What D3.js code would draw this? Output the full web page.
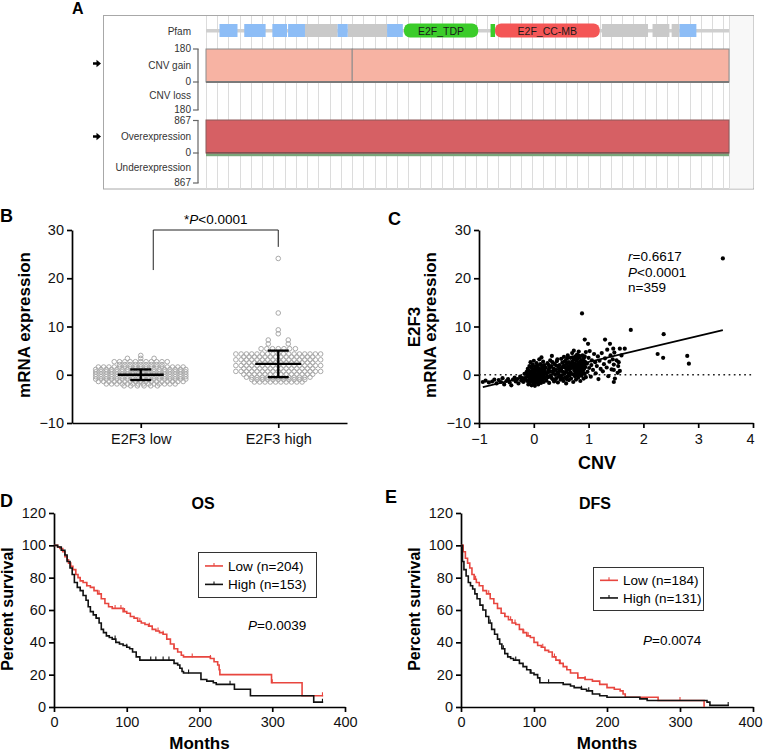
<!DOCTYPE html>
<html><head><meta charset="utf-8">
<script src="https://cdn.jsdelivr.net/npm/d3@7"></script>
<style>
body{margin:0;background:#fff}
svg{display:block}
text{font-family:"Liberation Sans",Arial,Helvetica,sans-serif}
</style>
</head><body>
<svg id="c" width="763" height="751"></svg>
<script>
// ---------------- DATA ----------------
// Panel A (protein track, residues)
const protLen = 465;
const blueDomains = [[12,28],[34,53],[59,72],[73,88],[117,126],[161,175],[421,436]];
const grayDomains = [[88,117],[126,161],[352,393],[397,412],[414,421]];
const pfamNames = ["E2F_TDP","E2F_CC-MB"];
const pfamStarts = [176,257];
const pfamEnds = [242,350];
const smallGreenDomain = [253,257];
const cnvMax = 180, exprMax = 867;
const cnvGainSegments = [[0,130],[130,465]];
const cnvGainValue = 180;
const overSegments = [[0,465]];
const overValue = 867;
const rowLabelsA = ["CNV gain","CNV loss","Overexpression","Underexpression"];

// Panel B (beeswarm, rows of values)
const groupsB = ["E2F3 low","E2F3 high"];
const lowRowValues  = [4.0,3.4,2.7,2.1,1.6,1.1,0.6,0.1,-0.4,-0.9,-1.4,-1.9,-2.3];
const lowRowCounts  = [1,3,11,9,17,18,18,18,18,18,17,14,6];
const highRowValues = [24.1,12.8,9.3,8.5,7.2,6.4,5.4,4.3,3.7,3.1,2.5,1.9,1.3,0.7,0.1,-0.5,-1.0,-1.5];
const highRowCounts = [1,1,1,1,2,2,7,17,14,17,14,17,14,17,14,13,11,10];
const groupMeans = [0.0,2.25];
const groupSDs = [1.1,2.75];
const bracketLegs = [21.7,26.5];
const yTicksB = [-10,0,10,20,30];

// Panel C (CNV vs expression)
const scatterPoints = [
[-0.93,-1.5],[-0.88,-1.2],[-0.82,-1.6],[-0.76,-1.4],[-0.72,-1.0],[-0.68,-1.8],[-0.64,-1.1],[-0.6,-1.5],[-0.57,-0.7],[-0.54,-2.0],[-0.5,-1.3],[-0.47,-0.9],[-0.44,-1.6],[-0.41,-2.2],[-0.38,-1.0],[-0.35,-0.6],[-0.33,-1.4],[-0.3,-0.9],[-0.28,-1.8],[-0.25,-0.4],[-0.23,-1.2],[-0.21,-0.7],[-0.19,-1.5],[-0.17,0.2],[-0.16,-1.0],
[-0.14,-0.5],[-0.13,0.6],[-0.12,-1.3],[-0.11,1.2],[-0.1,-0.2],[-0.1,-2.0],[-0.09,0.9],[-0.08,-0.8],[-0.08,1.8],[-0.07,-1.6],[-0.07,0.3],[-0.06,-0.4],[-0.06,2.6],[-0.05,-1.1],[-0.05,0.7],[-0.04,-2.2],[-0.04,1.5],[-0.03,-0.6],[-0.03,0.1],[-0.02,-1.4],[-0.02,2.1],[-0.01,-0.9],[-0.01,0.5],[0,-1.8],[0,-0.2],[0,1.1],[0,2.9],[0.01,-0.5],[0.01,0.8],[0.02,-1.2],[0.02,-2.3],[0.02,1.7],[0.03,0.2],[0.03,-0.8],[0.04,1.3],[0.04,-1.6],[0.05,0.0],[0.05,2.4],[0.06,-0.4],[0.06,0.9],[0.07,-1.0],[0.07,1.9],[0.08,0.4],[0.08,-2.0],[0.09,-0.6],[0.09,1.4],[0.1,3.2],[0.1,-1.3],[0.11,0.6],[0.11,-0.1],[0.12,2.2],[0.12,-0.9],[0.13,1.0],[0.13,-1.7],[0.14,0.3],[0.14,3.6],[0.15,-0.5],[0.15,1.6],[0.16,-1.1],[0.16,0.8],[0.17,2.7],[0.17,-0.3],[0.18,1.2],[0.18,-1.5],[0.19,0.1],[0.19,2.0],[0.2,-0.7],[0.2,0.9],[-0.02,0.9],[0.04,-0.2],[0.08,1.0],[-0.09,-1.2],[0.13,0.0],[0.06,-1.5],[-0.12,0.2],[0.1,0.5],[0.01,-1.0],[0.16,1.9],[-0.05,-0.1],[0.09,-0.3],
[0.22,1.5],[0.23,-1.2],[0.24,0.3],[0.25,2.4],[0.26,-0.5],[0.27,1.0],[0.28,-1.7],[0.29,0.6],[0.3,3.0],[0.31,-0.2],[0.32,1.8],[0.33,3.9],[0.34,-0.9],[0.35,0.4],[0.36,1.3],[0.37,-1.4],[0.38,2.2],[0.39,0.0],[0.4,1.0],[0.41,-0.7],[0.42,2.8],[0.43,0.5],[0.44,-1.6],[0.45,1.6],[0.46,-0.3],[0.47,2.0],[0.48,0.8],[0.49,-1.0],[0.5,3.3],[0.5,1.2],[0.51,-0.1],[0.52,2.5],[0.53,0.6],[0.54,-1.3],[0.55,1.9],[0.55,3.7],[0.56,0.2],[0.57,-0.6],[0.58,1.4],[0.58,2.9],[0.59,-1.8],[0.6,0.9],[0.6,2.3],[0.61,-0.4],[0.62,1.7],[0.62,4.0],[0.63,0.3],[0.64,-1.1],[0.64,2.6],[0.65,1.1],[0.27,2.0],[0.32,-0.6],[0.36,0.9],[0.41,1.9],[0.45,0.2],[0.48,-0.5],[0.52,1.6],[0.56,2.7],[0.6,-0.9],[0.63,1.5],[0.24,-0.3],[0.29,1.4],[0.34,2.6],[0.39,-1.0],[0.43,3.2],[0.47,1.1],[0.53,-0.8],[0.57,0.5],[0.61,3.4],[0.65,-0.2],
[0.66,2.0],[0.67,0.5],[0.67,3.5],[0.68,-0.8],[0.69,1.4],[0.7,2.7],[0.7,4.5],[0.71,0.1],[0.72,1.8],[0.72,-1.5],[0.73,3.1],[0.73,5.0],[0.74,0.9],[0.74,2.3],[0.75,-0.3],[0.75,1.6],[0.76,3.8],[0.76,0.4],[0.77,2.1],[0.77,-1.0],[0.78,1.2],[0.78,2.9],[0.79,4.2],[0.79,0.0],[0.8,1.9],[0.8,3.3],[0.81,-0.6],[0.81,2.5],[0.82,1.0],[0.82,4.8],[0.83,0.3],[0.83,2.2],[0.84,1.5],[0.84,3.6],[0.85,-1.3],[0.85,2.8],[0.86,0.7],[0.86,1.8],[0.87,3.0],[0.87,-0.2],[0.88,2.4],[0.88,1.1],[0.89,4.0],[0.89,0.5],[0.9,1.7],[0.9,2.9],[0.91,-0.8],[0.91,3.4],[0.92,1.3],[0.92,2.1],[0.93,0.2],[0.93,3.8],[0.94,1.6],[0.94,2.6],[0.95,-0.5],[0.95,4.7],[0.69,2.2],[0.71,3.6],[0.76,1.0],[0.8,0.6],[0.83,3.9],[0.86,2.3],[0.89,1.4],[0.92,2.8],[0.74,1.3],[0.78,3.6],[0.84,0.0],[0.9,0.9],[0.81,1.4],[0.87,1.9],
[0.97,2.3],[0.98,0.6],[1.0,3.5],[1.01,1.4],[1.02,4.9],[1.04,-0.4],[1.05,2.0],[1.06,3.0],[1.08,1.0],[1.1,4.3],[1.12,2.6],[1.13,0.3],[1.15,1.8],[1.17,3.8],[1.18,-0.9],[1.2,2.9],[1.22,1.2],[1.24,4.5],[1.26,0.7],[1.28,2.2],[1.3,3.4],[1.33,1.5],[1.34,5.2],[1.36,-0.3],[1.38,2.7],[1.4,4.0],[1.42,1.1],[1.44,3.2],[1.46,1.0],[1.46,2.1],[1.47,4.6],[1.48,-0.8],[1.51,3.0],[1.54,1.8],[1.55,2.6],[1.57,0.8],[1.6,4.0],[1.45,5.4],[1.57,5.4],[1.66,5.4],
[0.88,12.7],[3.45,24.1],[1.77,9.3],[2.37,8.4],[2.26,4.3],[2.36,3.5],[2.8,3.9],[2.83,2.3],[1.3,7.3],[1.39,6.4],[0.93,7.3],[0.99,6.4],[1.46,-1.5],[1.53,0.4]
];
const regSlope = 2.7, regIntercept = -0.05;
const statsC = ["r=0.6617","P<0.0001","n=359"];
const xTicksC = [-1,0,1,2,3,4];

// Panel D (OS) Kaplan-Meier
const osLowT  = [0,5,8,12,15,18,20,23,26,30,33,36,40,45,50,55,60,65,70,75,80,85,90,95,100,105,110,115,120,125,130,135,140,145,150,155,160,165,170,175,178,210,215,220,225,227,228,297,299,340,341,370];
const osLowS  = [100,99,98,96,93,91,89,87,85,82,80,78,77,75,74,72,70,67,64,62,61,61,61,59,58,56,55,53,52,51,50,48,47,46,45,42,39,36,34,32,31,31,30,28,26,23,20,20,15,15,7,7];
const osHighT = [0,5,10,15,18,22,25,28,32,36,40,44,47,50,54,58,62,65,68,72,76,80,85,90,95,100,104,108,113,118,125,165,170,173,176,178,200,202,210,219,223,246,248,268,270,355,357,370];
const osHighS = [100,99,97,94,90,86,82,77,74,72,69,66,62,59,57,55,52,48,46,44,43,42,40,39,38,37,36,34,31,29,29,27,26,24,22,21,21,17,16,15,14,14,11,11,7,7,3,3];
const osLowCensor  = [45,62,84,92,97,118,131,143,150,165,190,215,300,369];
const osHighCensor = [58,84,100,133,140,150,158,185,242,369];

// Panel E (DFS)
const dfsLowT  = [0,3,6,9,12,15,18,21,25,30,35,40,45,50,55,60,65,70,75,80,85,90,95,100,105,110,115,120,125,130,135,140,145,150,160,170,180,190,200,210,218,222,225,268,270,332,333];
const dfsLowS  = [100,96,92,89,86,82,79,77,75,72,70,67,64,61,58,56,54,52,51,48,46,44,43,40,38,37,35,34,31,29,27,25,23,21,18,17,16,14,12,11,10,8,6,6,4,4,0];
const dfsHighT = [0,2,4,7,10,13,16,19,22,26,30,34,38,42,46,50,53,56,60,64,68,72,76,80,85,90,95,100,105,108,135,140,150,155,165,172,180,190,200,245,255,337,341,367];
const dfsHighS = [100,90,85,81,77,75,73,70,67,63,60,56,52,48,45,42,39,36,33,31,30,29,29,27,25,23,21,20,18,15,15,14,13,12,11,10,8,7,6,5,4,3,1,1];
const dfsLowCensor  = [20,38,60,68,74,86,92,112,128,136,160,170,300];
const dfsHighCensor = [40,58,75,96,120,165,175,366];

const kmLegendD = ["Low (n=204)","High (n=153)"];
const kmLegendE = ["Low (n=184)","High (n=131)"];
const kmPD = "0.0039", kmPE = "0.0074";
const kmYTicks = [0,20,40,60,80,100,120];
const kmXTicks = [0,100,200,300,400];

// ---------------- DRAW ----------------
const svg = d3.select('#c');
const RED = '#e8463f';
const fmtInt = d3.format('d');

function styleAxis(g, fs){
  g.attr('font-size', fs);
  g.selectAll('path.domain').attr('stroke','#000').attr('stroke-width',1.7);
  g.selectAll('.tick line').attr('stroke','#000').attr('stroke-width',1.7);
  g.selectAll('.tick text').attr('fill','#111');
}
function letter(t,x,y,fs){
  svg.append('text').attr('x',x).attr('y',y).attr('font-size',fs).attr('font-weight','bold').text(t);
}

// ===== Panel A =====
letter('A',72,14,16);
const xA = d3.scaleLinear([0,protLen],[206,729]);
const yGain = d3.scaleLinear([0,cnvMax],[82,49]);
const yLoss = d3.scaleLinear([0,cnvMax],[82,110]);
const yOver = d3.scaleLinear([0,exprMax],[153,120]);
const yUnder = d3.scaleLinear([0,exprMax],[153,183]);
const gA = svg.append('g');
gA.append('rect').attr('x',103.5).attr('y',15.5).attr('width',650).attr('height',173.5)
  .attr('fill','#fff').attr('stroke','#a8a8a8');
gA.append('rect').attr('x',xA(protLen)).attr('y',16).attr('width',753.5-xA(protLen)).attr('height',172.5).attr('fill','#f8f8f8');
// grid lines
d3.range(0,protLen,10).concat([protLen]).forEach(r=>{
  gA.append('line').attr('x1',Math.round(xA(r))+0.5).attr('x2',Math.round(xA(r))+0.5)
    .attr('y1',16).attr('y2',188.5).attr('stroke','#dcdcdc').attr('stroke-width',1);
});
// pfam backbone
gA.append('rect').attr('x',xA(0)).attr('y',29).attr('width',xA(protLen)-xA(0)).attr('height',3.5).attr('fill','#cfcfcf');
grayDomains.forEach(d=>gA.append('rect').attr('x',xA(d[0])).attr('y',24).attr('width',xA(d[1])-xA(d[0])).attr('height',13).attr('fill','#c9c9c9'));
blueDomains.forEach(d=>gA.append('rect').attr('x',xA(d[0])).attr('y',24).attr('width',xA(d[1])-xA(d[0])).attr('height',13).attr('fill','#8dbdf6'));
gA.append('rect').attr('x',xA(smallGreenDomain[0])).attr('y',24).attr('width',xA(smallGreenDomain[1])-xA(smallGreenDomain[0])).attr('height',13).attr('fill','#3bcc2a');
const pfamColors = ['#3bcc2a','#f45656'];
pfamNames.forEach((n,i)=>{
  gA.append('rect').attr('x',xA(pfamStarts[i])).attr('y',23.5).attr('width',xA(pfamEnds[i])-xA(pfamStarts[i])).attr('height',14)
    .attr('rx',6).attr('fill',pfamColors[i]);
  gA.append('text').attr('x',(xA(pfamStarts[i])+xA(pfamEnds[i]))/2).attr('y',34.5).attr('text-anchor','middle')
    .attr('font-size',10.5).attr('fill','#1a1a1a').text(n);
});
// CNV gain
cnvGainSegments.forEach(s=>{
  gA.append('rect').attr('x',xA(s[0])).attr('y',yGain(cnvGainValue)).attr('width',xA(s[1])-xA(s[0])).attr('height',yGain(0)-yGain(cnvGainValue))
    .attr('fill','#f7b3a3').attr('stroke','#8c8c8c').attr('stroke-width',1);
});
gA.append('line').attr('x1',xA(0)).attr('x2',xA(protLen)).attr('y1',yGain(0)).attr('y2',yGain(0)).attr('stroke','#7a7a7a').attr('stroke-width',2);
// Overexpression
overSegments.forEach(s=>{
  gA.append('rect').attr('x',xA(s[0])).attr('y',yOver(overValue)).attr('width',xA(s[1])-xA(s[0])).attr('height',yOver(0)-yOver(overValue))
    .attr('fill','#d66064').attr('stroke','#8c5a5a').attr('stroke-width',1);
});
gA.append('line').attr('x1',xA(0)).attr('x2',xA(protLen)).attr('y1',yOver(0)).attr('y2',yOver(0)).attr('stroke','#7a4848').attr('stroke-width',1.5);
gA.append('rect').attr('x',xA(0)).attr('y',yOver(0)+0.8).attr('width',xA(protLen)-xA(0)).attr('height',2.4).attr('fill','#7aa67a');
// labels + brackets
const labA = (t,y)=>gA.append('text').attr('x',191).attr('y',y+3.4).attr('text-anchor','end').attr('font-size',10).attr('fill','#333').text(t);
labA('Pfam',32);
function bracket(top,mid,bot,topLab,botLab){
  gA.append('line').attr('x1',198).attr('x2',198).attr('y1',top).attr('y2',bot).attr('stroke','#666').attr('stroke-width',1.2);
  [top,mid,bot].forEach(y=>gA.append('line').attr('x1',193).attr('x2',198.6).attr('y1',y).attr('y2',y).attr('stroke','#666').attr('stroke-width',1.2));
  labA(topLab,top); labA('0',mid); labA(botLab,bot);
}
bracket(yGain(cnvMax),yGain(0),yLoss(cnvMax),String(cnvMax),String(cnvMax));
bracket(yOver(exprMax)+0.5,yOver(0),yUnder(exprMax),String(exprMax),String(exprMax));
labA(rowLabelsA[0],(yGain(cnvMax)+yGain(0))/2);
labA(rowLabelsA[1],(yLoss(cnvMax)+yLoss(0))/2);
labA(rowLabelsA[2],(yOver(exprMax)+yOver(0))/2);
labA(rowLabelsA[3],(yUnder(exprMax)+yUnder(0))/2);
[(yGain(cnvMax)+yGain(0))/2-2,(yOver(exprMax)+yOver(0))/2].forEach(y=>{
  gA.append('path').attr('d',`M93,${y-1.2}h3.5v-2.5l4.5,3.7l-4.5,3.7v-2.5h-3.5z`).attr('fill','#000');
});

// ===== Panel B =====
letter('B',0,222,18);
const xB = d3.scalePoint(groupsB,[72,347]).padding(0.5);
const yB = d3.scaleLinear([-10,30],[423,230]);
const gBy = svg.append('g').attr('transform','translate(72,0)').call(d3.axisLeft(yB).tickValues(yTicksB).tickFormat(fmtInt).tickSize(5).tickSizeOuter(0).tickPadding(3));
styleAxis(gBy,14.5);
const gBx = svg.append('g').attr('transform','translate(0,423)').call(d3.axisBottom(xB).tickSize(5).tickSizeOuter(0).tickPadding(6));
styleAxis(gBx,14.5);
svg.append('text').attr('transform','translate(30,325) rotate(-90)').attr('text-anchor','middle')
  .attr('font-size',17).attr('font-weight','bold').text('mRNA expression');
function rowPoints(vals,counts){
  const pts=[];
  vals.forEach((v,i)=>{const n=counts[i]; const sp=n>1?Math.max(5.3,40/n):0;
    for(let j=0;j<n;j++) pts.push({v, dx:(j-(n-1)/2)*sp});});
  return pts;
}
[[lowRowValues,lowRowCounts],[highRowValues,highRowCounts]].forEach((g,gi)=>{
  const cx = xB(groupsB[gi]);
  svg.append('g').selectAll('circle').data(rowPoints(g[0],g[1])).join('circle')
    .attr('cx',d=>cx+d.dx).attr('cy',d=>yB(d.v)).attr('r',2.3)
    .attr('fill','none').attr('stroke','#a9a9a9').attr('stroke-width',1);
  const m=groupMeans[gi], s=groupSDs[gi];
  const gm = svg.append('g').attr('stroke','#000').attr('stroke-width',2.3);
  gm.append('line').attr('x1',cx-23).attr('x2',cx+23).attr('y1',yB(m)).attr('y2',yB(m));
  gm.append('line').attr('x1',cx).attr('x2',cx).attr('y1',yB(m+s)).attr('y2',yB(m-s));
  [m+s,m-s].forEach(v=>gm.append('line').attr('x1',cx-10.5).attr('x2',cx+10.5).attr('y1',yB(v)).attr('y2',yB(v)));
});
const x1b = xB(groupsB[0])+12.5, x2b = xB(groupsB[1]);
svg.append('path').attr('d',`M${x1b},${yB(bracketLegs[0])}V${yB(30)}H${x2b}V${yB(bracketLegs[1])}`)
  .attr('fill','none').attr('stroke','#222').attr('stroke-width',1);
const tP = svg.append('text').attr('x',(x1b+x2b)/2).attr('y',224).attr('text-anchor','middle').attr('font-size',13.5);
tP.append('tspan').text('*'); tP.append('tspan').attr('font-style','italic').text('P'); tP.append('tspan').text('<0.0001');

// ===== Panel C =====
letter('C',388,225,18);
const xC = d3.scaleLinear([-1,4],[479,753]);
const yC = d3.scaleLinear([-10,30],[423,230]);
const gCy = svg.append('g').attr('transform','translate(479,0)').call(d3.axisLeft(yC).tickValues(yTicksB).tickFormat(fmtInt).tickSize(5).tickSizeOuter(0).tickPadding(3));
styleAxis(gCy,14.5);
const gCx = svg.append('g').attr('transform','translate(0,423)').call(d3.axisBottom(xC).tickValues(xTicksC).tickFormat(fmtInt).tickSize(5).tickSizeOuter(0).tickPadding(6));
styleAxis(gCx,14.5);
gCx.selectAll('.tick text').filter(d=>d===4).attr('dx',-3);
svg.append('line').attr('x1',xC(-1)).attr('x2',xC(4)).attr('y1',yC(0)).attr('y2',yC(0))
  .attr('stroke','#222').attr('stroke-width',1.7).attr('stroke-dasharray','1.7,3.5');
svg.append('g').selectAll('circle').data(scatterPoints).join('circle')
  .attr('cx',d=>xC(d[0])).attr('cy',d=>yC(d[1])).attr('r',2.1).attr('fill','#000');
const xr = d3.extent(scatterPoints,d=>d[0]);
svg.append('line').attr('x1',xC(xr[0])).attr('x2',xC(xr[1]))
  .attr('y1',yC(regSlope*xr[0]+regIntercept)).attr('y2',yC(regSlope*xr[1]+regIntercept))
  .attr('stroke','#000').attr('stroke-width',1.8);
[[statsC[0],261,'r'],[statsC[1],277,'P'],[statsC[2],292,null]].forEach(([s,y,it])=>{
  const t = svg.append('text').attr('x',628).attr('y',y).attr('font-size',13.5);
  if(it){ t.append('tspan').attr('font-style','italic').text(it); t.append('tspan').text(s.slice(1)); }
  else t.text(s);
});
svg.append('text').attr('x',597).attr('y',469).attr('text-anchor','middle').attr('font-size',18).attr('font-weight','bold').text('CNV');
svg.append('text').attr('transform','translate(420,327) rotate(-90)').attr('text-anchor','middle')
  .attr('font-size',17).attr('font-weight','bold').text('E2F3');
svg.append('text').attr('transform','translate(436,325) rotate(-90)').attr('text-anchor','middle')
  .attr('font-size',17).attr('font-weight','bold').text('mRNA expression');

// ===== KM panels =====
function kmPanel(o){
  const x = d3.scaleLinear([0,400],[o.x0,o.x1]);
  const y = d3.scaleLinear([0,120],[707,513]);
  const gy = svg.append('g').attr('transform',`translate(${o.x0},0)`).call(d3.axisLeft(y).tickValues(kmYTicks).tickFormat(fmtInt).tickSize(5).tickSizeOuter(0).tickPadding(3));
  styleAxis(gy,14.5);
  const gx = svg.append('g').attr('transform','translate(0,707)').call(d3.axisBottom(x).tickValues(kmXTicks).tickFormat(fmtInt).tickSize(5).tickSizeOuter(0).tickPadding(5));
  styleAxis(gx,14.5);
  if(o.x1 > 740) gx.selectAll('.tick text').filter(d=>d===400).attr('dx',-3);
  const line = d3.line().x(d=>x(d[0])).y(d=>y(d[1])).curve(d3.curveStepAfter);
  o.curves.forEach(c=>{
    const pts = c.t.map((t,i)=>[t,c.s[i]]);
    svg.append('path').attr('d',line(pts)).attr('fill','none').attr('stroke',c.color).attr('stroke-width',1.6);
    c.censor.forEach(ct=>{
      const i = Math.max(0,d3.bisectRight(c.t,ct)-1);
      const yy = y(c.s[i]);
      svg.append('line').attr('x1',x(ct)).attr('x2',x(ct)).attr('y1',yy-3.5).attr('y2',yy+0.5).attr('stroke',c.color).attr('stroke-width',1.1);
    });
  });
  svg.append('text').attr('x',o.titleX).attr('y',509).attr('text-anchor','middle').attr('font-size',16).attr('font-weight','bold').text(o.title);
  svg.append('text').attr('x',(o.x0+o.x1)/2).attr('y',748.5).attr('text-anchor','middle').attr('font-size',17).attr('font-weight','bold').text('Months');
  svg.append('text').attr('transform',`translate(${o.ylabX},609) rotate(-90)`).attr('text-anchor','middle').attr('font-size',16).attr('font-weight','bold').text('Percent survival');
  // legend
  const L = o.leg;
  svg.append('rect').attr('x',L.x+0.5).attr('y',L.y+0.5).attr('width',L.w).attr('height',L.h).attr('fill','#fff').attr('stroke','#333').attr('stroke-width',1);
  o.curves.forEach((c,i)=>{
    const yy = L.y + L.h*(i===0?0.31:0.72);
    svg.append('line').attr('x1',L.x+7).attr('x2',L.x+25).attr('y1',yy).attr('y2',yy).attr('stroke',c.color).attr('stroke-width',1.6);
    svg.append('line').attr('x1',L.x+16).attr('x2',L.x+16).attr('y1',yy-3).attr('y2',yy).attr('stroke',c.color).attr('stroke-width',1.1);
    svg.append('text').attr('x',L.x+30).attr('y',yy+5).attr('font-size',13.5).text(o.legend[i]);
  });
  const tp = svg.append('text').attr('x',o.pX).attr('y',o.pY).attr('font-size',13.5);
  tp.append('tspan').attr('font-style','italic').text('P'); tp.append('tspan').text('='+o.p);
}
letter('D',0,507,18);
kmPanel({x0:54,x1:345,title:'OS',titleX:203,ylabX:13,
  curves:[{t:osLowT,s:osLowS,censor:osLowCensor,color:RED},{t:osHighT,s:osHighS,censor:osHighCensor,color:'#111'}],
  leg:{x:198,y:552,w:118,h:45},legend:kmLegendD,p:kmPD,pX:248,pY:630});
letter('E',385,503,18);
kmPanel({x0:461,x1:753,title:'DFS',titleX:595,ylabX:420,
  curves:[{t:dfsLowT,s:dfsLowS,censor:dfsLowCensor,color:RED},{t:dfsHighT,s:dfsHighS,censor:dfsHighCensor,color:'#111'}],
  leg:{x:593,y:567,w:110,h:43},legend:kmLegendE,p:kmPE,pX:643,pY:645});
</script>
</body></html>
